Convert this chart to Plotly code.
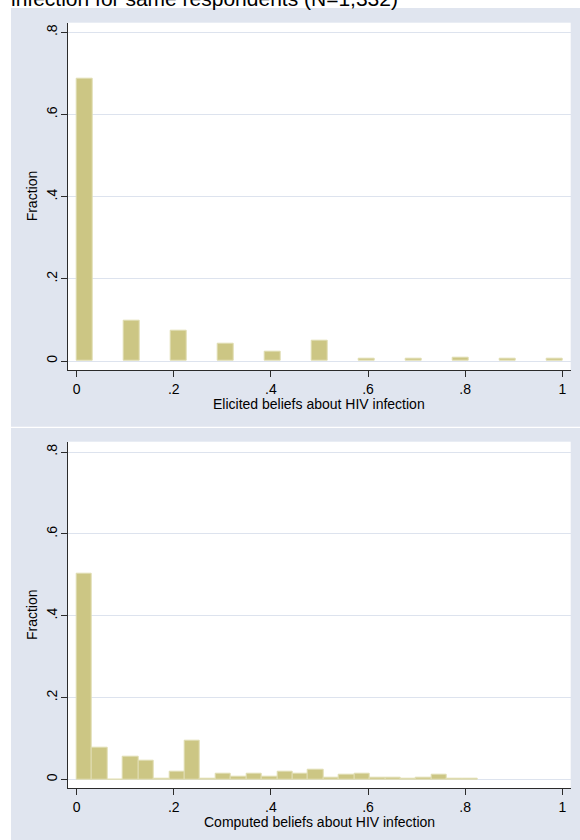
import plotly.graph_objects as go

# ---------------- data ----------------
# Top panel: elicited beliefs (discrete values), histogram with 31 bins on [0,1]
elicited_values = [0.0, 0.1, 0.2, 0.3, 0.4, 0.5, 0.6, 0.7, 0.8, 0.9, 1.0]
elicited_fraction = [0.688, 0.099, 0.073, 0.043, 0.0236, 0.049, 0.0065, 0.0045, 0.0075, 0.006, 0.0045]
elicited_nbins = 31

# Bottom panel: computed beliefs, histogram bins starting at 0
computed_bin_width = 0.03177
computed_fraction = [0.502, 0.078, 0.0, 0.055, 0.046, 0.003, 0.020, 0.094, 0.0025, 0.015,
                     0.006, 0.015, 0.008, 0.018, 0.013, 0.025, 0.004, 0.0106, 0.014, 0.004,
                     0.004, 0.0016, 0.005, 0.0114, 0.0016, 0.003]

x_tickvals = [0, 0.2, 0.4, 0.6, 0.8, 1]
x_ticktext = ["0", ".2", ".4", ".6", ".8", "1"]
y_tickvals = [0, 0.2, 0.4, 0.6, 0.8]
y_ticktext = ["0", ".2", ".4", ".6", ".8"]

title_text = "infection for same respondents (N=1,332)"
top_xtitle = "Elicited beliefs about HIV infection"
bottom_xtitle = "Computed beliefs about HIV infection"
ytitle = "Fraction"

# ---------------- styling ----------------
W, H = 580, 840
LAV = "#e0e5ef"
GRID = "#dde3ee"
BAR = "#ccc684"
BAR_EDGE = "#e0ddb2"
AX = "#2b2b2b"
FONT = "Liberation Sans, Arial, sans-serif"

def px_x(p):
    return p / W

def px_y(p):
    return 1 - p / H

# bins
bw_top = 1.0 / elicited_nbins
top_x = [(min(int(v * elicited_nbins + 1e-9), elicited_nbins - 1) + 0.5) * bw_top for v in elicited_values]
bot_x = [(i + 0.5) * computed_bin_width for i in range(len(computed_fraction))]

fig = go.Figure()
fig.add_trace(go.Bar(x=top_x, y=elicited_fraction, width=bw_top,
                     marker=dict(color=BAR, line=dict(color=BAR_EDGE, width=1)),
                     xaxis="x", yaxis="y", showlegend=False, hoverinfo="x+y"))
fig.add_trace(go.Bar(x=bot_x, y=computed_fraction, width=computed_bin_width,
                     marker=dict(color=BAR, line=dict(color=BAR_EDGE, width=1)),
                     xaxis="x2", yaxis="y2", showlegend=False, hoverinfo="x+y"))

# pixel geometry of plot regions
XL, XR = 67.7, 570.7
X0PX, X1PX = 76.7, 562.3   # pixel of x=0 and x=1
xscale = (X1PX - X0PX)
xrange_ = [(XL - X0PX) / xscale, (XR - X0PX) / xscale]

def yaxis_cfg(top_px, bottom_px, zero_px, p8_px):
    s = (zero_px - p8_px) / 0.8
    rng = [-(bottom_px - zero_px) / s, (zero_px - top_px) / s]
    dom = [px_y(bottom_px), px_y(top_px)]
    return rng, dom

ry1, dy1 = yaxis_cfg(22.7, 370.0, 361.0, 32.3)
ry2, dy2 = yaxis_cfg(441.7, 788.4, 779.5, 452.0)

common_x = dict(range=xrange_, domain=[px_x(XL), px_x(XR)], tickvals=x_tickvals, ticktext=x_ticktext,
                ticks="outside", ticklen=6, tickwidth=1, tickcolor=AX, showline=True, linecolor=AX,
                linewidth=1, showgrid=False, zeroline=False, fixedrange=True,
                tickfont=dict(family=FONT, size=14, color="black"))
common_y = dict(tickvals=y_tickvals, ticktext=y_ticktext, tickangle=-90,
                ticks="outside", ticklen=6, tickwidth=1, tickcolor=AX, showline=True, linecolor=AX,
                linewidth=1, showgrid=True, gridcolor=GRID, gridwidth=1, zeroline=False, fixedrange=True,
                ticklabelstandoff=-2,
                tickfont=dict(family=FONT, size=14, color="black"))

fig.update_layout(
    width=W, height=H, margin=dict(l=0, r=0, t=0, b=0, pad=0),
    paper_bgcolor=LAV, plot_bgcolor="white",
    bargap=0,
    xaxis=dict(common_x, anchor="y"),
    yaxis=dict(common_y, anchor="x", range=ry1, domain=dy1),
    xaxis2=dict(common_x, anchor="y2"),
    yaxis2=dict(common_y, anchor="x2", range=ry2, domain=dy2),
    font=dict(family=FONT, color="black"),
    shapes=[
        dict(type="rect", xref="paper", yref="paper", x0=0, x1=px_x(11), y0=0, y1=1,
             fillcolor="white", line=dict(width=0), layer="below"),
        dict(type="rect", xref="paper", yref="paper", x0=0, x1=1, y0=px_y(8), y1=1.01,
             fillcolor="white", line=dict(width=0), layer="below"),
        dict(type="rect", xref="paper", yref="paper", x0=0, x1=1, y0=px_y(428), y1=px_y(426.7),
             fillcolor="white", line=dict(width=0), layer="below"),
    ],
    annotations=[
        dict(text=title_text, xref="paper", yref="paper", x=px_x(9), y=px_y(12),
             xanchor="left", yanchor="bottom", showarrow=False,
             font=dict(family=FONT, size=21, color="black")),
        dict(text=top_xtitle, xref="paper", yref="paper", x=px_x((XL + XR) / 2), y=px_y(404),
             xanchor="center", yanchor="middle", showarrow=False,
             font=dict(family=FONT, size=14, color="black")),
        dict(text=bottom_xtitle, xref="paper", yref="paper", x=px_x((XL + XR) / 2), y=px_y(822),
             xanchor="center", yanchor="middle", showarrow=False,
             font=dict(family=FONT, size=14, color="black")),
        dict(text=ytitle, xref="paper", yref="paper", x=px_x(32), y=px_y((22.7 + 370) / 2),
             xanchor="center", yanchor="middle", textangle=-90, showarrow=False,
             font=dict(family=FONT, size=14, color="black")),
        dict(text=ytitle, xref="paper", yref="paper", x=px_x(32), y=px_y((441.7 + 788.4) / 2),
             xanchor="center", yanchor="middle", textangle=-90, showarrow=False,
             font=dict(family=FONT, size=14, color="black")),
    ],
)

fig.write_html("out.html", config=dict(displayModeBar=False))
